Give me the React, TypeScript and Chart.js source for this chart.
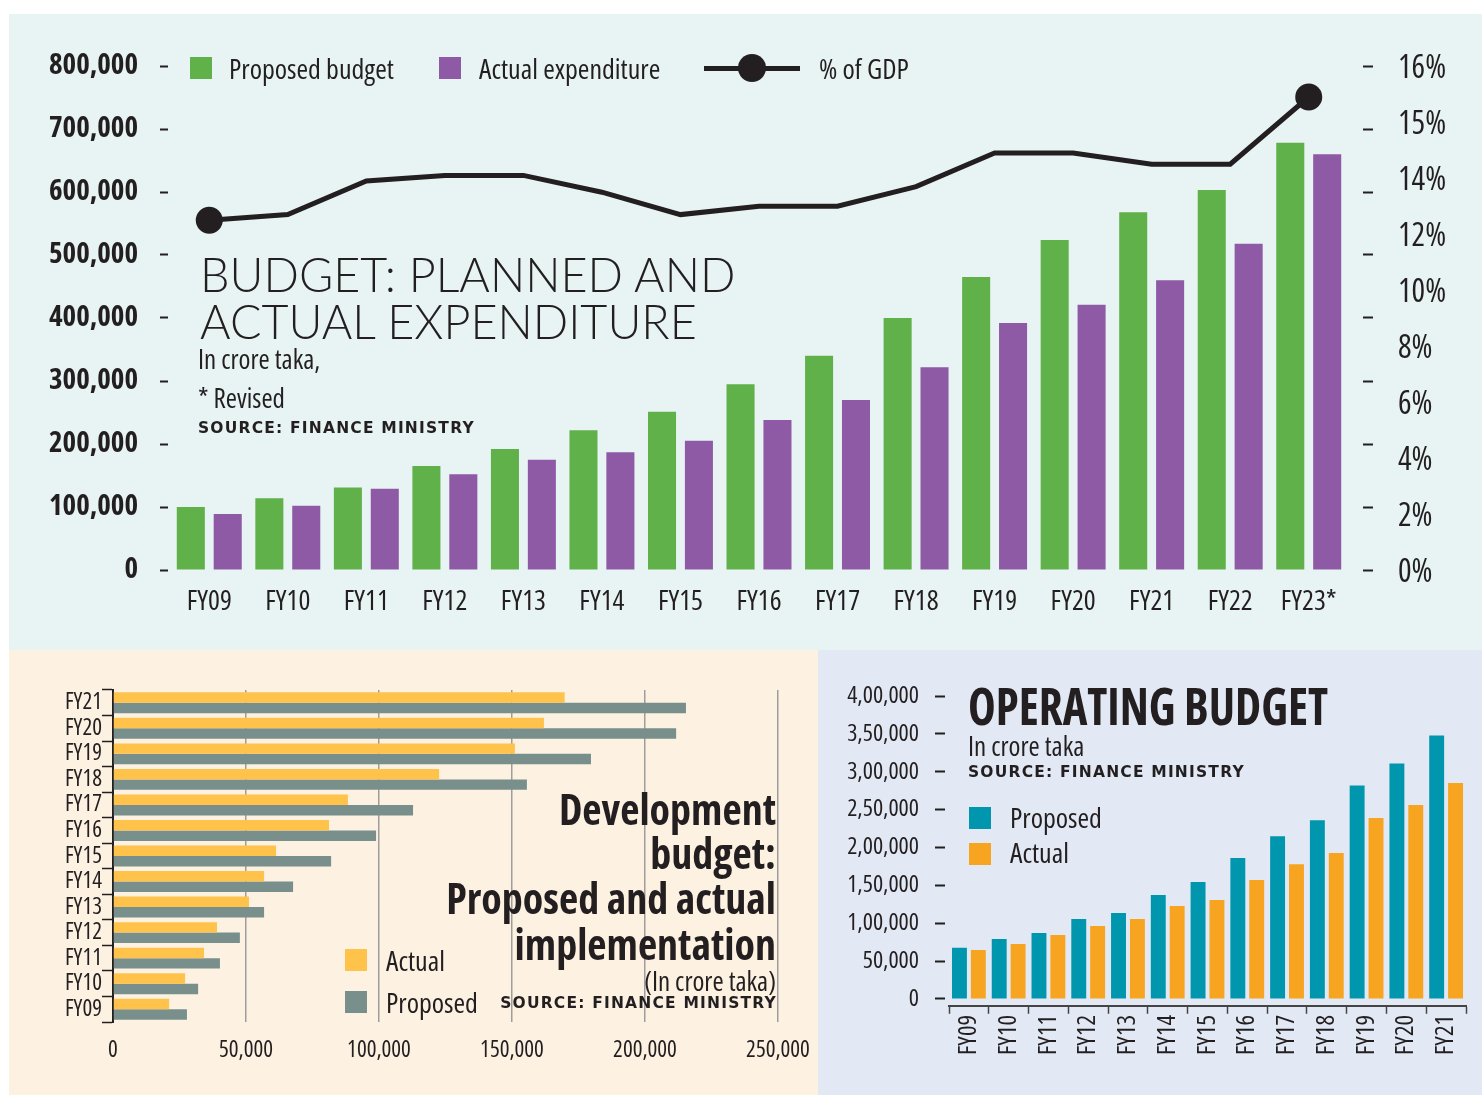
import React, { useEffect, useRef } from "react";
import { Chart, registerables } from "chart.js";

Chart.register(...registerables);

// ---------- Top chart: Budget planned and actual expenditure ----------
const fiscalYears = ["FY09", "FY10", "FY11", "FY12", "FY13", "FY14", "FY15", "FY16", "FY17", "FY18", "FY19", "FY20", "FY21", "FY22", "FY23*"];
const proposedBudget = [100000, 114000, 131000, 165000, 192000, 222000, 251000, 295000, 340000, 400000, 465000, 524000, 568000, 603000, 678000];
const actualExpenditure = [89000, 102000, 129000, 152000, 175000, 187000, 205000, 238000, 270000, 322000, 392000, 421000, 460000, 518000, 660000];
const gdpShare = [12.6, 12.8, 14.0, 14.1, 14.1, 13.6, 12.8, 13.1, 13.1, 13.8, 14.5, 14.5, 14.3, 14.3, 15.5];
const budgetTickLabels = ["0", "100,000", "200,000", "300,000", "400,000", "500,000", "600,000", "700,000", "800,000"];
const gdpTickLabels = ["0%", "2%", "4%", "6%", "8%", "10%", "12%", "14%", "15%", "16%"];

// ---------- Bottom-left: Development budget ----------
const devYears = ["FY09", "FY10", "FY11", "FY12", "FY13", "FY14", "FY15", "FY16", "FY17", "FY18", "FY19", "FY20", "FY21"];
const devActual = [21100, 27100, 34200, 39100, 51100, 56800, 61300, 81200, 88300, 122600, 151100, 162000, 169800];
const devProposed = [27800, 32000, 40200, 47700, 56800, 67700, 82000, 98900, 112800, 155600, 179700, 211700, 215400];
const devTickLabels = ["0", "50,000", "100,000", "150,000", "200,000", "250,000"];

// ---------- Bottom-right: Operating budget ----------
const opYears = ["FY09", "FY10", "FY11", "FY12", "FY13", "FY14", "FY15", "FY16", "FY17", "FY18", "FY19", "FY20", "FY21"];
const opProposed = [67500, 79200, 87100, 105500, 113500, 137200, 154400, 186000, 215000, 236000, 282000, 311000, 348000];
const opActual = [64600, 72600, 84400, 96300, 105500, 122700, 130600, 157000, 178000, 192600, 238800, 256000, 285000];
const opTickLabels = ["0", "50,000", "1,00,000", "1,50,000", "2,00,000", "2,50,000", "3,00,000", "3,50,000", "4,00,000"];

// ---------- Styles ----------
const COND = "'Open Sans', 'DejaVu Sans Condensed', sans-serif";
const WIDE = "'DejaVu Sans', Verdana, sans-serif";
const LIGHT = "Lato, 'Open Sans', sans-serif";
const INK = "#231f20";
const GREEN = "#61b14b";
const PURPLE = "#8f5aa5";
const YELLOW = "#ffc24b";
const SLATE = "#798f8b";
const TEAL = "#0096ad";
const ORANGE = "#f7a520";
const REG = "condensed 400";
const BOLD = "condensed 700";

// the right-hand % axis has uneven label steps (2% steps up to 14%, then 1%)
const gdpSlot = (p: number) => (p <= 14 ? p / 2 : 7 + (p - 14));

const fixSize = (w?: number, h?: number) => (s: any) => {
  if (w !== undefined) s.width = w;
  if (h !== undefined) s.height = h;
  s.paddingTop = 0;
  s.paddingBottom = 0;
  s.paddingLeft = 0;
  s.paddingRight = 0;
};
const setTicks = (labels: string[], step: number) => (s: any) => {
  s.ticks = labels.map((_, i) => ({ value: i * step }));
};

const topConfig = (): any => ({
  type: "bar",
  data: {
    labels: fiscalYears,
    datasets: [
      {
        type: "line",
        label: "% of GDP",
        data: gdpShare.map(gdpSlot),
        yAxisID: "y1",
        borderColor: INK,
        backgroundColor: INK,
        borderWidth: 5,
        pointRadius: gdpShare.map((_, i) => (i === 0 || i === gdpShare.length - 1 ? 13.5 : 0)),
        pointBorderWidth: 0,
        pointBackgroundColor: INK,
        tension: 0,
        order: 0,
      },
      {
        type: "bar",
        label: "Proposed budget",
        data: proposedBudget,
        backgroundColor: GREEN,
        yAxisID: "y",
        order: 1,
        categoryPercentage: 0.94,
        barPercentage: 0.76,
      },
      {
        type: "bar",
        label: "Actual expenditure",
        data: actualExpenditure,
        backgroundColor: PURPLE,
        yAxisID: "y",
        order: 2,
        categoryPercentage: 0.94,
        barPercentage: 0.76,
      },
    ],
  },
  options: {
    responsive: false,
    animation: false,
    layout: { padding: { top: 34.5, left: 0, right: 0, bottom: 0 } },
    plugins: { legend: { display: false }, tooltip: { enabled: false } },
    scales: {
      x: {
        grid: { display: false },
        border: { display: false },
        ticks: { color: INK, font: { family: COND, size: 28, weight: REG }, padding: -5, maxRotation: 0, autoSkip: false },
        afterFit: fixSize(undefined, 67.4),
      },
      y: {
        position: "left",
        min: -20000,
        max: 850000,
        afterBuildTicks: setTicks(budgetTickLabels, 100000),
        ticks: {
          color: INK,
          padding: 22,
          font: { family: COND, size: 29, weight: BOLD },
          callback: (v: number, i: number) => budgetTickLabels[i],
        },
        grid: { drawOnChartArea: false, drawTicks: true, tickLength: 10, tickColor: INK, tickWidth: 2, tickBorderDash: [8, 100] },
        border: { display: false },
        afterFit: fixSize(170),
      },
      y2: {
        position: "right",
        weight: 0,
        min: -20000,
        max: 850000,
        afterBuildTicks: setTicks(budgetTickLabels, 100000),
        ticks: { display: false },
        grid: { drawOnChartArea: false, drawTicks: true, tickLength: 25, tickColor: INK, tickWidth: 2, tickBorderDash: [0, 15, 10, 100] },
        border: { display: false },
        afterFit: fixSize(25),
      },
      y1: {
        position: "right",
        weight: 1,
        min: -0.1714,
        max: 9.616,
        afterBuildTicks: setTicks(gdpTickLabels, 1),
        ticks: {
          color: INK,
          padding: 25,
          font: { family: COND, size: 32, weight: REG },
          callback: (v: number, i: number) => gdpTickLabels[i],
        },
        grid: { drawOnChartArea: false, drawTicks: false },
        border: { display: false },
        afterFit: fixSize(109),
      },
    },
  },
});

const devConfig = (): any => ({
  type: "bar",
  data: {
    labels: devYears,
    datasets: [
      { label: "Actual", data: devActual, backgroundColor: YELLOW, categoryPercentage: 0.82, barPercentage: 1.0 },
      { label: "Proposed", data: devProposed, backgroundColor: SLATE, categoryPercentage: 0.82, barPercentage: 1.0 },
    ],
  },
  options: {
    indexAxis: "y",
    responsive: false,
    animation: false,
    layout: { padding: { top: 40, right: 40, left: 0, bottom: 0 } },
    plugins: { legend: { display: false }, tooltip: { enabled: false } },
    scales: {
      x: {
        min: 0,
        max: 250000,
        afterBuildTicks: setTicks(devTickLabels, 50000),
        ticks: {
          color: INK,
          padding: 15,
          font: { family: COND, size: 23, weight: REG },
          maxRotation: 0,
          autoSkip: false,
          callback: (v: number, i: number) => devTickLabels[i],
        },
        grid: { color: "#9d9d9d", lineWidth: 1.5, drawTicks: false },
        border: { display: false },
        afterFit: fixSize(undefined, 73),
      },
      y: {
        reverse: true,
        ticks: { color: INK, padding: 0, autoSkip: false, font: { family: COND, size: 23, weight: REG } },
        grid: { drawOnChartArea: false, drawTicks: true, tickLength: 11, tickColor: INK, tickWidth: 1.5 },
        border: { display: true, color: INK, width: 2 },
        afterFit: fixSize(104),
      },
    },
  },
});

const opConfig = (): any => ({
  type: "bar",
  data: {
    labels: opYears,
    datasets: [
      { label: "Proposed", data: opProposed, backgroundColor: TEAL, categoryPercentage: 0.95, barPercentage: 0.79 },
      { label: "Actual", data: opActual, backgroundColor: ORANGE, categoryPercentage: 0.95, barPercentage: 0.79 },
    ],
  },
  options: {
    responsive: false,
    animation: false,
    layout: { padding: { top: 46, right: 16, left: 0, bottom: 0 } },
    plugins: { legend: { display: false }, tooltip: { enabled: false } },
    scales: {
      x: {
        ticks: { color: INK, padding: 1, autoSkip: false, font: { family: COND, size: 25, weight: REG }, minRotation: 90, maxRotation: 90 },
        grid: { drawOnChartArea: false, drawTicks: true, tickLength: 8, tickColor: "#444", tickWidth: 1.5 },
        border: { display: true, color: "#444", width: 2 },
        afterFit: fixSize(undefined, 89.2),
      },
      y: {
        min: -9000,
        max: 400000,
        afterBuildTicks: setTicks(opTickLabels, 50000),
        ticks: {
          color: INK,
          padding: 16,
          font: { family: COND, size: 24, weight: REG },
          callback: (v: number, i: number) => opTickLabels[i],
        },
        grid: { drawOnChartArea: false, drawTicks: true, tickLength: 14, tickColor: INK, tickWidth: 2, tickBorderDash: [10, 100] },
        border: { display: false },
        afterFit: fixSize(131),
      },
    },
  },
});

function ChartCanvas({ left, top, width, height, build }: any) {
  const ref = useRef<HTMLCanvasElement>(null);
  useEffect(() => {
    const chart = new Chart(ref.current as HTMLCanvasElement, build());
    return () => chart.destroy();
  }, []);
  return <canvas ref={ref} width={width} height={height} style={{ position: "absolute", left, top, width, height }} />;
}

function Txt({ x, cy, size, children, family = COND, weight = 400, ls = 0, right = false, sx = 1, color = INK, stretch = "condensed" }: any) {
  const style: any = {
    position: "absolute",
    top: cy - size / 2,
    fontFamily: family,
    fontSize: size,
    fontWeight: weight,
    fontStretch: family === COND ? stretch : "normal",
    lineHeight: 1,
    whiteSpace: "nowrap",
    letterSpacing: ls,
    color,
    transform: sx !== 1 ? `scaleX(${sx})` : undefined,
    transformOrigin: right ? "right center" : "left center",
  };
  if (right) style.right = 1482 - x;
  else style.left = x;
  return <div style={style}>{children}</div>;
}

function Box({ x, y, w, h, color, r = 0 }: any) {
  return <div style={{ position: "absolute", left: x, top: y, width: w, height: h, background: color, borderRadius: r }} />;
}

export default function App() {
  return (
    <div style={{ position: "absolute", left: 0, top: 0, width: 1482, height: 1095, background: "#fff", overflow: "hidden" }}>
      {/* panels */}
      <Box x={9} y={14} w={1473} h={636} color="#e8f4f4" />
      <Box x={9} y={650} w={809} h={445} color="#fdf1e2" />
      <Box x={818} y={650} w={664} h={445} color="#e2e9f5" />

      {/* top chart */}
      <ChartCanvas left={0} top={0} width={1482} height={650} build={topConfig} />
      <Box x={190} y={57} w={22} h={22} color={GREEN} />
      <Txt x={229} cy={68} size={28}>Proposed budget</Txt>
      <Box x={439} y={57} w={22} h={22} color={PURPLE} />
      <Txt x={479} cy={68} size={28}>Actual expenditure</Txt>
      <Box x={704} y={65.5} w={96} h={5} color={INK} />
      <Box x={738} y={54} w={28} h={28} color={INK} r={14} />
      <Txt x={819} cy={68} size={28}>% of GDP</Txt>
      <Txt x={200} cy={274.5} size={46.7} family={LIGHT} weight={300}>BUDGET: PLANNED AND</Txt>
      <Txt x={200} cy={321} size={46.7} family={LIGHT} weight={300}>ACTUAL EXPENDITURE</Txt>
      <Txt x={198} cy={358} size={27}>In crore taka,</Txt>
      <Txt x={198} cy={397} size={27}>* Revised</Txt>
      <Txt x={198} cy={428.5} size={15.5} family={WIDE} weight={700} ls={1.2}>SOURCE: FINANCE MINISTRY</Txt>

      {/* bottom-left chart */}
      <ChartCanvas left={9} top={650} width={809} height={445} build={devConfig} />
      <Box x={345} y={949} w={22} h={22} color={YELLOW} />
      <Txt x={386} cy={960} size={28}>Actual</Txt>
      <Box x={345} y={991} w={22} h={22} color={SLATE} />
      <Txt x={386} cy={1002} size={28}>Proposed</Txt>
      <Txt x={776} cy={809} size={42} weight={700} right>Development</Txt>
      <Txt x={776} cy={853} size={42} weight={700} right>budget:</Txt>
      <Txt x={776} cy={898} size={42} weight={700} right>Proposed and actual</Txt>
      <Txt x={776} cy={944} size={42} weight={700} right>implementation</Txt>
      <Txt x={776} cy={980} size={27} right>(In crore taka)</Txt>
      <Txt x={777} cy={1004} size={15.5} family={WIDE} weight={700} ls={1.2} right>SOURCE: FINANCE MINISTRY</Txt>

      {/* bottom-right chart */}
      <ChartCanvas left={818} top={650} width={664} height={445} build={opConfig} />
      <Txt x={968} cy={705} size={52} weight={700} sx={0.9}>OPERATING BUDGET</Txt>
      <Txt x={968} cy={745} size={27}>In crore taka</Txt>
      <Txt x={968} cy={773} size={15.5} family={WIDE} weight={700} ls={1.2}>SOURCE: FINANCE MINISTRY</Txt>
      <Box x={969} y={807} w={22} h={22} color={TEAL} />
      <Txt x={1010} cy={817} size={28}>Proposed</Txt>
      <Box x={969} y={843} w={22} h={22} color={ORANGE} />
      <Txt x={1010} cy={852} size={28}>Actual</Txt>
    </div>
  );
}
